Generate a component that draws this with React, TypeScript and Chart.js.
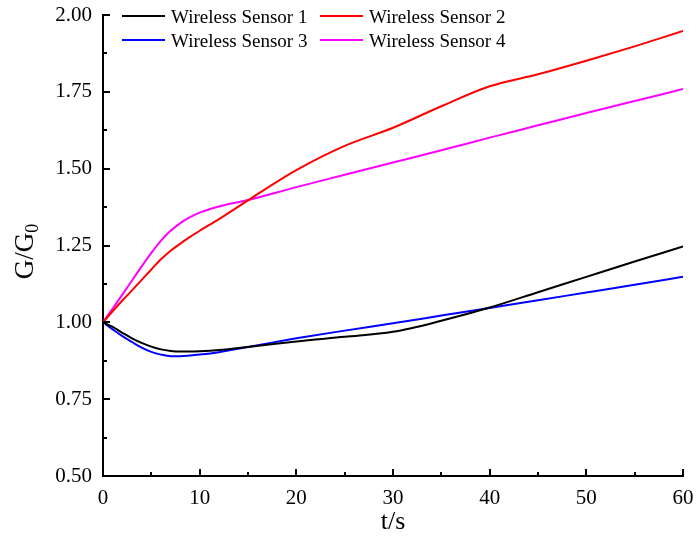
import React, { useEffect, useRef } from 'react';
import { Chart, registerables } from 'chart.js';

Chart.register(...registerables);

// time (s)
const timeS = [0, 1, 2, 3, 4, 5, 6, 7, 8, 9, 10, 12, 15, 20, 25, 30, 35, 40, 45, 50, 55, 60];

// G/G0 per sensor
const sensor1 = [1.000, 0.985, 0.966, 0.948, 0.933, 0.921, 0.912, 0.907, 0.905, 0.905, 0.906, 0.910, 0.920, 0.938, 0.953, 0.969, 1.005, 1.048, 1.098, 1.148, 1.198, 1.247];
const sensor2 = [1.000, 1.036, 1.071, 1.104, 1.138, 1.172, 1.205, 1.233, 1.256, 1.278, 1.298, 1.336, 1.397, 1.495, 1.574, 1.633, 1.703, 1.768, 1.807, 1.851, 1.898, 1.948];
const sensor3 = [1.000, 0.977, 0.955, 0.936, 0.918, 0.904, 0.895, 0.890, 0.890, 0.892, 0.895, 0.903, 0.920, 0.948, 0.973, 0.997, 1.022, 1.047, 1.072, 1.097, 1.122, 1.148];
const sensor4 = [1.000, 1.045, 1.090, 1.136, 1.182, 1.226, 1.266, 1.298, 1.323, 1.342, 1.357, 1.377, 1.398, 1.440, 1.480, 1.520, 1.560, 1.601, 1.641, 1.681, 1.720, 1.759];

const seriesLabels = ['Wireless Sensor 1', 'Wireless Sensor 2', 'Wireless Sensor 3', 'Wireless Sensor 4'];
const seriesColors = ['#000000', '#ff0000', '#0000ff', '#ff00ff'];

const xTicks = [0, 10, 20, 30, 40, 50, 60];
const yTicks = [0.5, 0.75, 1.0, 1.25, 1.5, 1.75, 2.0];

const xTitle = 't/s';
const yTitleMain = 'G/G';
const yTitleSub = '0';

const FONT = "'Liberation Serif', 'Times New Roman', serif";

const customPlugin = {
  id: 'customDecor',
  afterDraw(chart: any) {
    const ctx = chart.ctx as CanvasRenderingContext2D;
    const xs = chart.scales.x;
    const ys = chart.scales.y;
    const area = chart.chartArea;
    ctx.save();
    // inward ticks
    ctx.strokeStyle = '#000';
    ctx.lineWidth = 2;
    ctx.beginPath();
    const xStep = (xTicks[1] - xTicks[0]) / 2;
    for (let i = 0; i <= (xTicks.length - 1) * 2; i++) {
      const v = xTicks[0] + i * xStep;
      const px = Math.round(xs.getPixelForValue(v));
      const len = i % 2 === 0 ? 7 : 4;
      ctx.moveTo(px, area.bottom);
      ctx.lineTo(px, area.bottom - len);
    }
    const yStep = (yTicks[1] - yTicks[0]) / 2;
    for (let i = 0; i <= (yTicks.length - 1) * 2; i++) {
      const v = yTicks[0] + i * yStep;
      const py = Math.round(ys.getPixelForValue(v));
      const len = i % 2 === 0 ? 7 : 4;
      ctx.moveTo(area.left, py);
      ctx.lineTo(area.left + len, py);
    }
    ctx.stroke();

    // legend (inside plot, 2 columns)
    ctx.font = `19px ${FONT}`;
    ctx.fillStyle = '#000';
    ctx.textAlign = 'left';
    ctx.textBaseline = 'alphabetic';
    const colX = [122, 320];
    const rowY = [16, 40];
    chart.data.datasets.forEach((ds: any, i: number) => {
      const c = i % 2;
      const r = Math.floor(i / 2);
      ctx.strokeStyle = ds.borderColor;
      ctx.lineWidth = 2;
      ctx.beginPath();
      ctx.moveTo(colX[c], rowY[r]);
      ctx.lineTo(colX[c] + 43, rowY[r]);
      ctx.stroke();
      ctx.fillText(ds.label, colX[c] + 49, rowY[r] + 7);
    });

    // x title
    ctx.font = `26px ${FONT}`;
    ctx.textAlign = 'center';
    ctx.fillText(xTitle, (area.left + area.right) / 2, 529);

    // y title with subscript
    ctx.translate(33, (area.top + area.bottom) / 2 + 6);
    ctx.rotate(-Math.PI / 2);
    ctx.font = `27px ${FONT}`;
    const wMain = ctx.measureText(yTitleMain).width;
    ctx.font = `18px ${FONT}`;
    const wSub = ctx.measureText(yTitleSub).width;
    const start = -(wMain + wSub) / 2;
    ctx.textAlign = 'left';
    ctx.font = `27px ${FONT}`;
    ctx.fillText(yTitleMain, start, 0);
    ctx.font = `18px ${FONT}`;
    ctx.fillText(yTitleSub, start + wMain, 5);
    ctx.restore();
  },
};

const zeroPad = (s: any) => {
  s.paddingTop = 0;
  s.paddingBottom = 0;
  s.paddingLeft = 0;
  s.paddingRight = 0;
};

export default function App() {
  const canvasRef = useRef<HTMLCanvasElement | null>(null);

  useEffect(() => {
    document.body.style.margin = '0';
    const canvas = canvasRef.current;
    if (!canvas) return;
    const series = [sensor1, sensor2, sensor3, sensor4];
    const chart = new Chart(canvas, {
      type: 'line',
      data: {
        datasets: series.map((s, i) => ({
          label: seriesLabels[i],
          data: s.map((v, j) => ({ x: timeS[j], y: v })),
          borderColor: seriesColors[i],
          backgroundColor: seriesColors[i],
          borderWidth: 2,
          pointRadius: 0,
          fill: false,
          cubicInterpolationMode: 'monotone' as const,
        })),
      },
      options: {
        responsive: false,
        animation: false,
        devicePixelRatio: 1,
        layout: { padding: { top: 15, right: 13, left: 0, bottom: 0 } },
        plugins: { legend: { display: false }, tooltip: { enabled: false } },
        scales: {
          x: {
            type: 'linear',
            min: xTicks[0],
            max: xTicks[xTicks.length - 1],
            afterFit: (s: any) => { s.height = 62; zeroPad(s); },
            afterBuildTicks: (s: any) => { s.ticks = xTicks.map((v) => ({ value: v })); },
            grid: { display: false, drawTicks: false },
            border: { display: true, width: 2, color: '#000' },
            ticks: { color: '#000', padding: 10, font: { family: FONT, size: 21 }, maxRotation: 0 },
          },
          y: {
            type: 'linear',
            min: yTicks[0],
            max: yTicks[yTicks.length - 1],
            afterFit: (s: any) => { s.width = 103; zeroPad(s); },
            afterBuildTicks: (s: any) => { s.ticks = yTicks.map((v) => ({ value: v })); },
            grid: { display: false, drawTicks: false },
            border: { display: true, width: 2, color: '#000' },
            ticks: {
              color: '#000',
              padding: 11,
              font: { family: FONT, size: 21 },
              callback: (v: any) => Number(v).toFixed(2),
            },
          },
        },
      },
      plugins: [customPlugin],
    });
    return () => chart.destroy();
  }, []);

  return (
    <div style={{ width: 696, height: 538, background: '#fff' }}>
      <canvas ref={canvasRef} width={696} height={538} style={{ display: 'block', width: 696, height: 538 }} />
    </div>
  );
}
